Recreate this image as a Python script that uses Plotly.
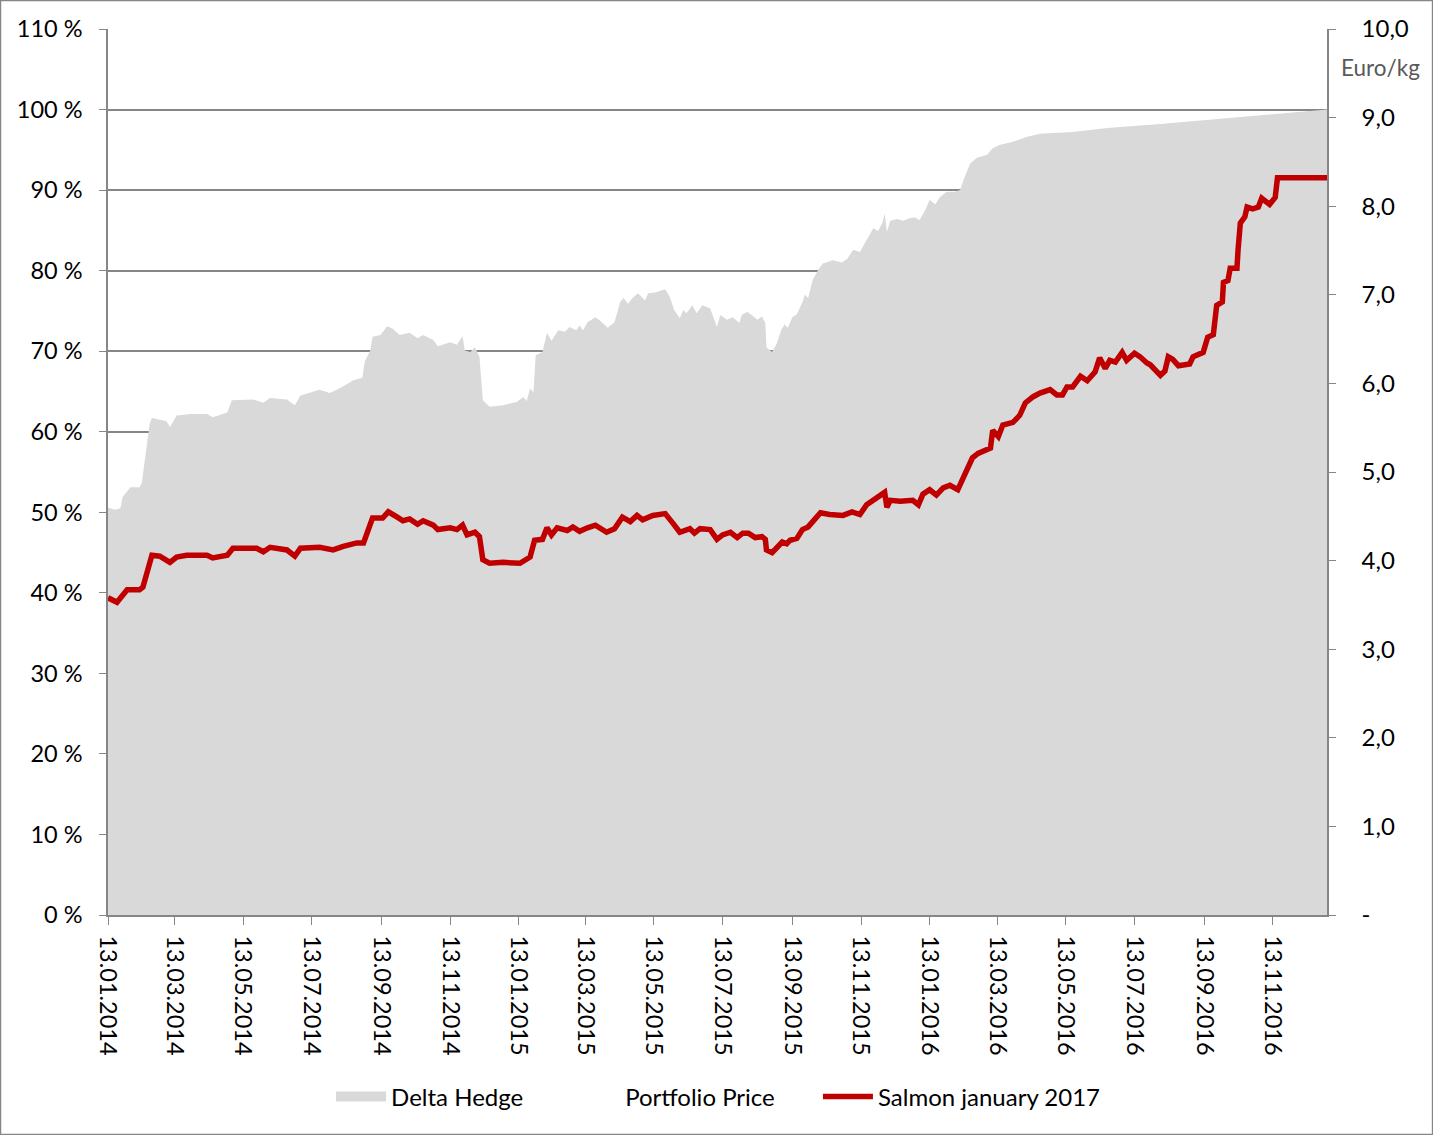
import plotly.graph_objects as go

# Delta Hedge (left axis, %)
hedge_dates = [
    "2014-01-13", "2014-01-19", "2014-01-24", "2014-01-26", "2014-02-02", "2014-02-10", "2014-02-12",
    "2014-02-16", "2014-02-19", "2014-02-21", "2014-02-28", "2014-03-06", "2014-03-09", "2014-03-15",
    "2014-03-27", "2014-04-11", "2014-04-16", "2014-04-29", "2014-05-03", "2014-05-22", "2014-05-31",
    "2014-06-06", "2014-06-21", "2014-06-28", "2014-07-03", "2014-07-11", "2014-07-20", "2014-07-29",
    "2014-08-07", "2014-08-19", "2014-08-27", "2014-08-29", "2014-09-03", "2014-09-05", "2014-09-12",
    "2014-09-18", "2014-09-23", "2014-09-29", "2014-10-08", "2014-10-15", "2014-10-20", "2014-10-29",
    "2014-11-02", "2014-11-13", "2014-11-19", "2014-11-24", "2014-11-26", "2014-12-01", "2014-12-05",
    "2014-12-09", "2014-12-12", "2014-12-18", "2014-12-30", "2015-01-11", "2015-01-17", "2015-01-20",
    "2015-01-23", "2015-01-26", "2015-01-28", "2015-02-03", "2015-02-07", "2015-02-11", "2015-02-17",
    "2015-02-23", "2015-02-27", "2015-03-05", "2015-03-08", "2015-03-11", "2015-03-15", "2015-03-22",
    "2015-03-26", "2015-04-02", "2015-04-08", "2015-04-13", "2015-04-16", "2015-04-20", "2015-04-24",
    "2015-04-29", "2015-05-05", "2015-05-08", "2015-05-14", "2015-05-23", "2015-05-27", "2015-05-31",
    "2015-06-05", "2015-06-08", "2015-06-11", "2015-06-16", "2015-06-20", "2015-06-25", "2015-07-02",
    "2015-07-08", "2015-07-11", "2015-07-17", "2015-07-22", "2015-07-28", "2015-07-30", "2015-08-04",
    "2015-08-09", "2015-08-13", "2015-08-17", "2015-08-20", "2015-08-21", "2015-08-26", "2015-08-30",
    "2015-09-03", "2015-09-06", "2015-09-09", "2015-09-13", "2015-09-17", "2015-09-22", "2015-09-24",
    "2015-09-27", "2015-10-01", "2015-10-06", "2015-10-10", "2015-10-19", "2015-10-27", "2015-11-01",
    "2015-11-06", "2015-11-12", "2015-11-18", "2015-11-24", "2015-11-28", "2015-12-02", "2015-12-04",
    "2015-12-06", "2015-12-09", "2015-12-15", "2015-12-20", "2015-12-26", "2015-12-31", "2016-01-04",
    "2016-01-09", "2016-01-13", "2016-01-18", "2016-01-22", "2016-01-28", "2016-02-04", "2016-02-09",
    "2016-02-13", "2016-02-18", "2016-02-24", "2016-03-04", "2016-03-09", "2016-03-15", "2016-03-27",
    "2016-04-08", "2016-04-20", "2016-05-19", "2016-06-19", "2016-08-05", "2016-12-31",
]
hedge_pct = [
    50.6, 50.3, 50.5, 51.9, 53.1, 53.1, 53.6,
    58.0, 61.0, 61.7, 61.5, 61.3, 60.6, 62.0,
    62.2, 62.2, 61.8, 62.4, 63.9, 64.0, 63.6,
    64.2, 64.0, 63.3, 64.5, 64.8, 65.2, 64.8,
    65.4, 66.4, 66.7, 68.7, 70.1, 71.8, 72.0,
    73.1, 72.8, 72.0, 72.3, 71.6, 72.0, 71.4,
    70.6, 71.1, 70.8, 71.9, 70.1, 69.9, 70.5,
    69.3, 63.9, 63.1, 63.3, 63.7, 64.3, 63.8,
    65.4, 64.9, 69.5, 69.9, 72.3, 71.3, 72.6,
    72.4, 73.0, 72.6, 73.2, 72.6, 73.6, 74.2,
    73.8, 72.9, 73.6, 76.1, 76.6, 75.9, 76.6,
    77.2, 76.3, 77.2, 77.3, 77.7, 76.8, 75.1,
    74.1, 75.1, 74.7, 75.7, 74.7, 75.7, 75.3,
    73.0, 74.5, 73.9, 74.2, 73.5, 74.5, 74.9,
    74.3, 73.9, 74.3, 73.5, 70.5, 69.9, 70.9,
    72.6, 73.3, 72.9, 74.2, 74.6, 76.1, 77.0,
    76.6, 78.8, 80.1, 80.9, 81.3, 81.0, 81.5,
    82.6, 82.3, 83.8, 85.3, 84.9, 85.9, 87.1,
    84.8, 86.2, 86.4, 86.2, 86.5, 86.6, 86.3,
    87.5, 88.8, 88.2, 89.1, 89.8, 89.8, 90.0,
    91.6, 93.3, 94.0, 94.4, 95.2, 95.6, 96.0,
    96.6, 97.0, 97.2, 97.7, 98.2, 100.0,
]

# Salmon january 2017 (right axis, Euro/kg)
salmon_dates = [
    "2014-01-13", "2014-01-21", "2014-01-30", "2014-02-10", "2014-02-13", "2014-02-18", "2014-02-21",
    "2014-02-28", "2014-03-09", "2014-03-15", "2014-03-24", "2014-04-11", "2014-04-16", "2014-04-29",
    "2014-05-04", "2014-05-25", "2014-05-31", "2014-06-06", "2014-06-21", "2014-06-28", "2014-07-03",
    "2014-07-20", "2014-08-01", "2014-08-10", "2014-08-22", "2014-08-28", "2014-08-31", "2014-09-05",
    "2014-09-14", "2014-09-19", "2014-09-27", "2014-10-02", "2014-10-08", "2014-10-15", "2014-10-20",
    "2014-10-29", "2014-11-02", "2014-11-13", "2014-11-19", "2014-11-24", "2014-11-28", "2014-12-05",
    "2014-12-09", "2014-12-12", "2014-12-18", "2014-12-30", "2015-01-14", "2015-01-23", "2015-01-27",
    "2015-02-03", "2015-02-07", "2015-02-11", "2015-02-16", "2015-02-25", "2015-03-02", "2015-03-08",
    "2015-03-15", "2015-03-22", "2015-04-01", "2015-04-08", "2015-04-15", "2015-04-22", "2015-04-28",
    "2015-05-03", "2015-05-12", "2015-05-23", "2015-05-30", "2015-06-05", "2015-06-14", "2015-06-18",
    "2015-06-23", "2015-07-02", "2015-07-08", "2015-07-13", "2015-07-20", "2015-07-26", "2015-07-31",
    "2015-08-05", "2015-08-11", "2015-08-17", "2015-08-20", "2015-08-21", "2015-08-26", "2015-08-30",
    "2015-09-04", "2015-09-08", "2015-09-11", "2015-09-17", "2015-09-22", "2015-09-27", "2015-10-03",
    "2015-10-08", "2015-10-16", "2015-10-23", "2015-10-28", "2015-11-05", "2015-11-12", "2015-11-18",
    "2015-11-27", "2015-12-04", "2015-12-06", "2015-12-09", "2015-12-18", "2015-12-29", "2016-01-03",
    "2016-01-07", "2016-01-13", "2016-01-19", "2016-01-25", "2016-01-31", "2016-02-07", "2016-02-13",
    "2016-02-20", "2016-02-25", "2016-03-07", "2016-03-09", "2016-03-14", "2016-03-18", "2016-03-27",
    "2016-04-02", "2016-04-07", "2016-04-14", "2016-04-20", "2016-04-29", "2016-05-05", "2016-05-10",
    "2016-05-14", "2016-05-19", "2016-05-26", "2016-06-01", "2016-06-08", "2016-06-12", "2016-06-17",
    "2016-06-21", "2016-06-26", "2016-07-02", "2016-07-06", "2016-07-13", "2016-07-18", "2016-07-24",
    "2016-07-27", "2016-08-05", "2016-08-09", "2016-08-12", "2016-08-16", "2016-08-21", "2016-08-27",
    "2016-08-31", "2016-09-03", "2016-09-12", "2016-09-16", "2016-09-21", "2016-09-24", "2016-09-29",
    "2016-09-30", "2016-10-04", "2016-10-06", "2016-10-12", "2016-10-13", "2016-10-15", "2016-10-19",
    "2016-10-21", "2016-10-26", "2016-10-31", "2016-11-03", "2016-11-08", "2016-11-10", "2016-11-15",
    "2016-11-17", "2016-12-31",
]
salmon_eur = [
    3.58, 3.53, 3.67, 3.67, 3.70, 3.95, 4.06,
    4.05, 3.98, 4.04, 4.06, 4.06, 4.03, 4.06,
    4.14, 4.14, 4.10, 4.15, 4.12, 4.05, 4.14,
    4.15, 4.12, 4.16, 4.20, 4.20, 4.31, 4.48,
    4.48, 4.55, 4.49, 4.45, 4.47, 4.41, 4.45,
    4.40, 4.35, 4.37, 4.35, 4.40, 4.29, 4.32,
    4.27, 4.01, 3.97, 3.98, 3.97, 4.04, 4.23,
    4.24, 4.37, 4.29, 4.37, 4.34, 4.38, 4.33,
    4.37, 4.40, 4.32, 4.36, 4.49, 4.44, 4.51,
    4.46, 4.51, 4.53, 4.42, 4.32, 4.36, 4.31,
    4.36, 4.35, 4.24, 4.29, 4.32, 4.26, 4.31,
    4.31, 4.26, 4.27, 4.24, 4.12, 4.09, 4.15,
    4.21, 4.19, 4.23, 4.25, 4.35, 4.38, 4.48,
    4.54, 4.52, 4.51, 4.51, 4.55, 4.52, 4.63,
    4.71, 4.77, 4.60, 4.68, 4.67, 4.68, 4.63,
    4.75, 4.80, 4.74, 4.82, 4.85, 4.80, 4.97,
    5.16, 5.21, 5.27, 5.47, 5.40, 5.53, 5.56,
    5.64, 5.78, 5.85, 5.89, 5.93, 5.87, 5.87,
    5.96, 5.96, 6.08, 6.03, 6.13, 6.29, 6.17,
    6.26, 6.24, 6.35, 6.26, 6.34, 6.30, 6.23,
    6.21, 6.09, 6.14, 6.30, 6.27, 6.20, 6.22,
    6.22, 6.30, 6.35, 6.52, 6.55, 6.88, 6.92,
    7.14, 7.16, 7.30, 7.30, 7.51, 7.81, 7.88,
    7.99, 7.97, 7.99, 8.09, 8.05, 8.02, 8.10,
    8.32, 8.32,
]

left_ticks = list(range(0, 111, 10))
left_ticktext = [f"{v} %" for v in left_ticks]
right_ticks = list(range(0, 11))
right_ticktext = ["-"] + [f"{v},0" for v in right_ticks[1:]]

GRAY = "#868686"
FONT = "Lato"
TICKFONT = dict(family=FONT, size=23.5, color="#000000")

fig = go.Figure()
fig.add_trace(go.Scatter(
    x=hedge_dates, y=hedge_pct, name="Delta Hedge", mode="lines",
    line=dict(width=0, color="#d9d9d9"), fill="tozeroy", fillcolor="#d9d9d9",
    yaxis="y", showlegend=False,
))
# legend-only markers (no data)
fig.add_trace(go.Scatter(
    x=[None], y=[None], name="Delta Hedge", mode="lines",
    line=dict(width=16, color="#d9d9d9"), yaxis="y", legend="legend",
))
fig.add_trace(go.Scatter(
    x=[None], y=[None], name="Portfolio Price", mode="lines",
    line=dict(width=0, color="rgba(0,0,0,0)"), yaxis="y", legend="legend2",
))
fig.add_trace(go.Scatter(
    x=salmon_dates, y=salmon_eur, name="Salmon january 2017", mode="lines",
    line=dict(width=5.5, color="#c00000"), yaxis="y2", legend="legend3",
))

legend_common = dict(
    orientation="h", xanchor="left", yanchor="top", y=-0.18,
    font=dict(family=FONT, size=24, color="#000000"),
    itemwidth=50, bgcolor="rgba(0,0,0,0)",
)

fig.update_layout(
    width=1433, height=1135,
    margin=dict(l=108, r=106, t=29, b=220),
    paper_bgcolor="white", plot_bgcolor="white",
    font=dict(family=FONT, size=23, color="#000000"),
    showlegend=True,
    legend=dict(legend_common, x=0.183),
    legend2=dict(legend_common, x=0.375),
    legend3=dict(legend_common, x=0.5824),
    xaxis=dict(
        type="date", range=["2014-01-13", "2016-12-31"],
        tick0="2014-01-13", dtick="M2", tickformat="%d.%m.%Y",
        tickangle=90, ticks="outside", ticklen=8, tickcolor=GRAY,
        showline=True, linecolor=GRAY, linewidth=1.5,
        showgrid=False, zeroline=False,
        tickfont=TICKFONT, ticklabelstandoff=6,
    ),
    yaxis=dict(
        range=[0, 110], tickmode="array", tickvals=left_ticks, ticktext=left_ticktext,
        ticks="outside", ticklen=7, tickcolor=GRAY,
        showline=True, linecolor=GRAY, linewidth=1.5,
        showgrid=True, gridcolor=GRAY, gridwidth=1.5, zeroline=False,
        tickfont=TICKFONT, ticklabelstandoff=12,
    ),
    yaxis2=dict(
        range=[0, 10], overlaying="y", side="right",
        tickmode="array", tickvals=right_ticks, ticktext=right_ticktext,
        ticks="outside", ticklen=7, tickcolor=GRAY,
        showline=True, linecolor=GRAY, linewidth=1.5,
        showgrid=False, zeroline=False,
        tickfont=dict(family=FONT, size=24, color="#000000"), ticklabelstandoff=21,
    ),
)

fig.add_annotation(
    text="Euro/kg", xref="paper", yref="paper", x=1.0099, y=0.957,
    xanchor="left", yanchor="middle", showarrow=False,
    font=dict(family=FONT, size=22.5, color="#595959"),
)

fig.add_shape(
    type="rect", xref="paper", yref="paper",
    x0=-0.0882, x1=1.0866, y0=-0.2477, y1=1.0322,
    line=dict(color=GRAY, width=1.5), fillcolor="rgba(0,0,0,0)", layer="above",
)

fig.write_html(
    "out.html",
    config={"displayModeBar": False},
    post_script="document.body.style.margin='0';",
)
